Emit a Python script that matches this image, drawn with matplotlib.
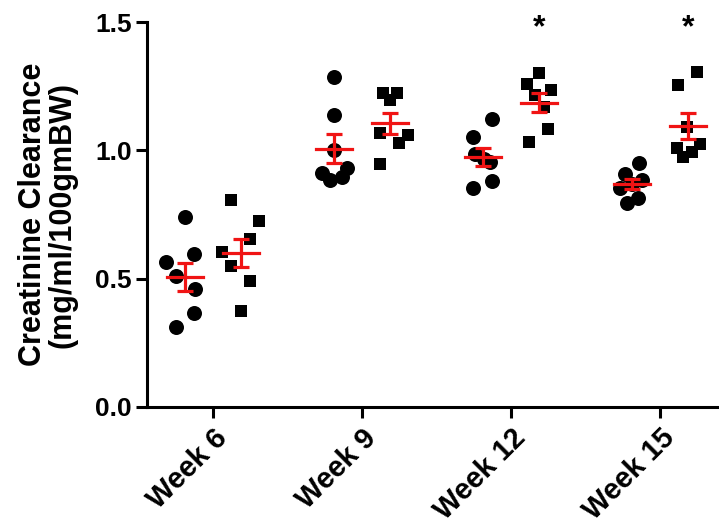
import numpy as np
import matplotlib
matplotlib.use("Agg")
import matplotlib.pyplot as plt

plt.rcParams['font.family'] = ['Liberation Sans', 'DejaVu Sans']
plt.rcParams['font.weight'] = 'bold'

weeks = ["Week 6", "Week 9", "Week 12", "Week 15"]

group_a = [
    [0.739, 0.596, 0.566, 0.510, 0.458, 0.365, 0.313],
    [1.287, 1.137, 1.001, 0.910, 0.884, 0.895, 0.930],
    [1.121, 1.053, 0.985, 0.965, 0.953, 0.880, 0.854],
    [0.952, 0.908, 0.884, 0.852, 0.870, 0.796, 0.813],
]
group_b = [
    [0.806, 0.723, 0.654, 0.605, 0.550, 0.491, 0.374],
    [1.222, 1.222, 1.196, 1.069, 1.060, 1.030, 0.945],
    [1.302, 1.257, 1.235, 1.215, 1.170, 1.082, 1.034],
    [1.306, 1.254, 1.092, 1.008, 1.025, 0.973, 0.995],
]
significant = [False, False, True, True]

# horizontal scatter of points within a column (pixels)
jit_a = [[0, 9, -19, -9, 10, 9, -9],
         [0, 0, 0, -12, -4, 8, 13],
         [9, -10, -8, 1, 7, 9, -10],
         [7, -7, 10, -12, 0, -5, 6]]
jit_b = [[-10, 18, 9, -19, -10, 9, 0],
         [-7, 7, 0, -10, 18, 9, -10],
         [0, -12, 12, -4, 5, 9, -10],
         [9, -10, -1, -11, 12, -5, 4]]

PX = 1 / 149.0
off = 28 * PX
RED = '#f01414'

fig = plt.figure(figsize=(7.19, 5.29), dpi=100)
ax = fig.add_axes([147 / 719, 122 / 529, (719 - 147) / 719, 385 / 529])

x = np.arange(len(weeks))
for i in range(len(weeks)):
    for vals, jit, sign, mk, ms in ((group_a[i], jit_a[i], -1, 'o', 10.8),
                                     (group_b[i], jit_b[i], 1, 's', 8.8)):
        cx = x[i] + sign * off
        xs = cx + np.array(jit) * PX
        ax.plot(xs, vals, linestyle='none', marker=mk, ms=ms, color='black',
                markeredgewidth=0, zorder=3, clip_on=False)
        v = np.array(vals)
        m = v.mean()
        sem = v.std(ddof=1) / np.sqrt(len(v))
        ax.plot([cx - 18 * PX, cx + 18 * PX], [m, m], color=RED, lw=2.3, zorder=4)
        ax.errorbar(cx, m, yerr=sem, fmt='none', ecolor=RED, elinewidth=2.3,
                    capsize=6, capthick=2.3, zorder=4)
    if significant[i]:
        ax.text(x[i] + off, 1.476, '*', ha='center', va='center', fontsize=23,
                fontweight='bold', clip_on=False)

ax.set_xlim(-66 * PX, (719 - 213) * PX)
ax.set_ylim(0, 1.5)
ax.set_yticks([0.0, 0.5, 1.0, 1.5])
ax.set_yticklabels(["0.0", "0.5", "1.0", "1.5"])
ax.set_xticks(x)
ax.set_xticklabels(weeks, rotation=45, ha='right', rotation_mode='anchor')

for s in ['top', 'right']:
    ax.spines[s].set_visible(False)
for s in ['left', 'bottom']:
    ax.spines[s].set_linewidth(2.2)
ax.tick_params(axis='both', width=2.2, length=8, pad=3)
ax.tick_params(axis='y', labelsize=19)
ax.tick_params(axis='x', labelsize=21, pad=4)
for lab in ax.get_xticklabels() + ax.get_yticklabels():
    lab.set_fontweight('bold')

ax.set_ylabel("Creatinine Clearance\n(mg/ml/100gmBW)", fontsize=22, fontweight='bold',
              labelpad=13, linespacing=0.95)

fig.savefig("out.png", dpi=100)
